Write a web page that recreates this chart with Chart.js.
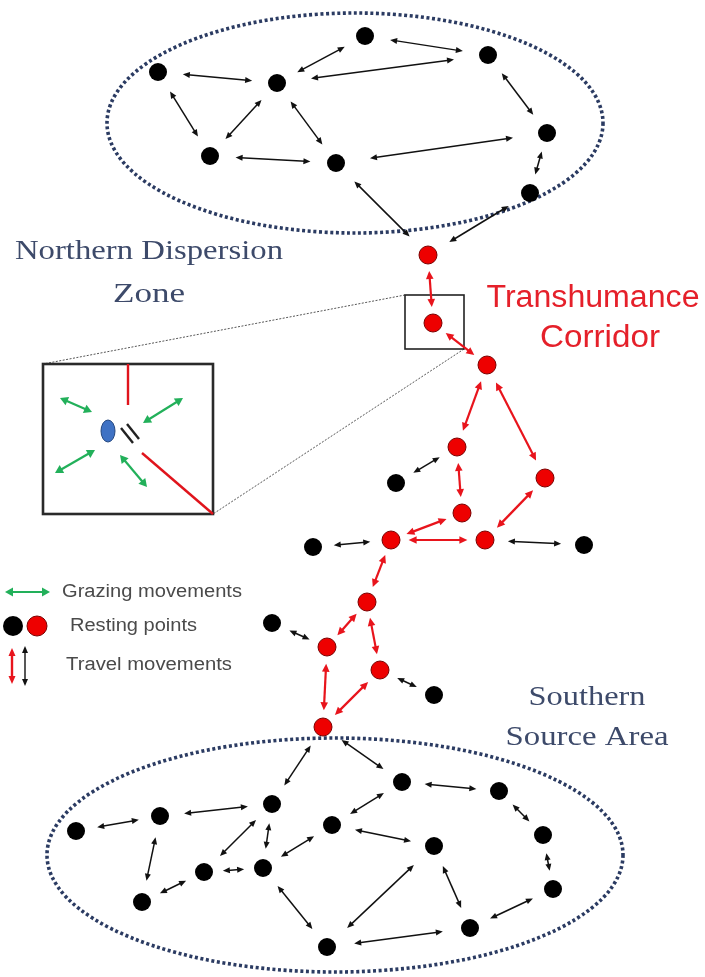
<!DOCTYPE html>
<html><head><meta charset="utf-8">
<script src="https://cdn.jsdelivr.net/npm/chart.js@4/dist/chart.umd.min.js"></script>
<style>html,body{margin:0;padding:0;background:#fff;}canvas{display:block;}</style>
</head><body>
<canvas id="c" width="705" height="977"></canvas>
<script>
// ---------- DATA (diagram coordinates) ----------
const northIds = ['N1','N2','N3','N4','N5','N6','N7','N8'];
const northX   = [365, 488, 158, 277, 547, 210, 336, 530];
const northY   = [ 36,  55,  72,  83, 133, 156, 163, 193];

const corridorRedIds = ['R1','R2','R3','R4','R5','R6','R7','R8','R9','R10','R11','R12'];
const corridorRedX   = [428, 433, 487, 457, 545, 462, 391, 485, 367, 327, 380, 323];
const corridorRedY   = [255, 323, 365, 447, 478, 513, 540, 540, 602, 647, 670, 727];

const corridorBlackIds = ['B1','B2','B3','B4','B5'];
const corridorBlackX   = [396, 313, 584, 272, 434];
const corridorBlackY   = [483, 547, 545, 623, 695];

const southIds = ['S1','S2','S3','S4','S5','S6','S7','S8','S9','S10','S11','S12','S13','S14'];
const southX   = [ 76, 160, 272, 332, 204, 263, 142, 327, 402, 499, 543, 434, 553, 470];
const southY   = [831, 816, 804, 825, 872, 868, 902, 947, 782, 791, 835, 846, 889, 928];

const blackEdges = [
  ['N1','N2'],['N1','N4'],['N3','N4'],['N4','N2'],['N3','N6'],['N4','N6'],['N4','N7'],
  ['N6','N7'],['N7','N5'],['N2','N5'],['N5','N8'],['R1','N7'],['R1','N8'],
  ['R4','B1'],['R8','B3'],['B2','R7'],['B4','R10'],['R11','B5'],
  ['R12','S3'],['R12','S9'],['S1','S2'],['S2','S3'],['S2','S7'],['S3','S5'],['S3','S6'],
  ['S5','S6'],['S7','S5'],['S6','S4'],['S6','S8'],['S9','S10'],['S9','S4'],['S10','S11'],
  ['S4','S12'],['S12','S14'],['S12','S8'],['S8','S14'],['S13','S14'],['S11','S13']
];
const redEdges = [
  ['R1','R2'],['R2','R3'],['R3','R4'],['R3','R5'],['R4','R6'],['R6','R7'],['R7','R8'],
  ['R5','R8'],['R7','R9'],['R9','R10'],['R9','R11'],['R10','R12'],['R11','R12']
];

// zones (centre x, centre y, radius x, radius y)
const zoneNames = ['north','south'];
const zoneCX = [355, 335];
const zoneCY = [123, 855];
const zoneRX = [248, 288];
const zoneRY = [110, 117];

// inset (zoom of node R2)
const zoomSquare = [405, 295, 464, 349];      // x1,y1,x2,y2
const insetBox   = [43, 364, 213, 514];
const insetNode  = [108, 431, 7, 11];         // cx, cy, rx, ry
const grazingFromX = [60, 183, 55, 120];
const grazingFromY = [398, 398, 473, 455];
const grazingToX   = [92, 143, 95, 147];
const grazingToY   = [412, 423, 450, 487];

// labels
const labelTexts = ['Northern Dispersion','Zone','Transhumance','Corridor','Southern','Source Area'];
const labelX     = [149, 149, 593, 600, 587, 587];
const labelY     = [252, 295, 298, 338, 698, 738];
const labelW     = [268, 72, 213, 120, 117, 163];
const legendTexts = ['Grazing movements','Resting points','Travel movements'];
const legendTextX = [62, 70, 66];
const legendTextY = [592, 626, 665];
const legendTextW = [180, 127, 166];

// ---------- BUILD ----------
const pos = {};
function addNodes(ids, xs, ys){ ids.forEach((id,i)=>pos[id]=[xs[i],ys[i]]); }
addNodes(northIds, northX, northY);
addNodes(corridorRedIds, corridorRedX, corridorRedY);
addNodes(corridorBlackIds, corridorBlackX, corridorBlackY);
addNodes(southIds, southX, southY);

const blackPts = [].concat(
  northIds.map((_,i)=>({x:northX[i],y:northY[i]})),
  corridorBlackIds.map((_,i)=>({x:corridorBlackX[i],y:corridorBlackY[i]})),
  southIds.map((_,i)=>({x:southX[i],y:southY[i]}))
);
const redPts = corridorRedIds.map((_,i)=>({x:corridorRedX[i],y:corridorRedY[i]}));

function head(ctx, tx, ty, ux, uy, len, wid){
  ctx.beginPath();
  ctx.moveTo(tx, ty);
  ctx.lineTo(tx-ux*len-uy*wid, ty-uy*len+ux*wid);
  ctx.lineTo(tx-ux*len+uy*wid, ty-uy*len-ux*wid);
  ctx.closePath(); ctx.fill();
}
function arrow(ctx, x1, y1, x2, y2, color, lw, hl, hw, g1, g2){
  const dx=x2-x1, dy=y2-y1, L=Math.hypot(dx,dy), ux=dx/L, uy=dy/L;
  const ax=x1+ux*g1, ay=y1+uy*g1, bx=x2-ux*g2, by=y2-uy*g2;
  ctx.strokeStyle=color; ctx.fillStyle=color; ctx.lineWidth=lw; ctx.lineCap='butt';
  ctx.beginPath(); ctx.moveTo(ax+ux*hl*0.7, ay+uy*hl*0.7); ctx.lineTo(bx-ux*hl*0.7, by-uy*hl*0.7); ctx.stroke();
  head(ctx, bx, by, ux, uy, hl, hw);
  head(ctx, ax, ay, -ux, -uy, hl, hw);
}
function fitText(ctx, txt, x, y, font, w, align){
  ctx.font = font;
  const m = ctx.measureText(txt).width;
  const s = w / m;
  ctx.save();
  ctx.translate(x, y);
  ctx.scale(s, 1);
  ctx.textAlign = align; ctx.textBaseline = 'middle';
  ctx.fillText(txt, 0, 0);
  ctx.restore();
}

const diagramPlugin = {
  id: 'diagram',
  beforeDatasetsDraw(chart){
    const ctx = chart.ctx, sx = chart.scales.x, sy = chart.scales.y;
    const X = v => sx.getPixelForValue(v), Y = v => sy.getPixelForValue(v);
    ctx.save();
    // dotted zones
    zoneNames.forEach((_,i)=>{
      const cx=X(zoneCX[i]), cy=Y(zoneCY[i]);
      const rx=Math.abs(X(zoneCX[i]+zoneRX[i])-cx), ry=Math.abs(Y(zoneCY[i]+zoneRY[i])-cy);
      ctx.beginPath(); ctx.ellipse(cx, cy, rx, ry, 0, 0, Math.PI*2);
      ctx.setLineDash([3, 2.6]); ctx.lineWidth=3.6; ctx.strokeStyle='#2b3b62'; ctx.stroke();
    });
    ctx.setLineDash([]);
    // zoom connector lines
    ctx.setLineDash([2, 1.5]); ctx.lineWidth=1; ctx.strokeStyle='#555';
    ctx.beginPath(); ctx.moveTo(X(zoomSquare[0]), Y(zoomSquare[1])); ctx.lineTo(X(insetBox[0]), Y(insetBox[1])); ctx.stroke();
    ctx.beginPath(); ctx.moveTo(X(zoomSquare[2]), Y(zoomSquare[3])); ctx.lineTo(X(insetBox[2]), Y(insetBox[3])); ctx.stroke();
    ctx.setLineDash([]);
    // zoom square
    ctx.lineWidth=1.6; ctx.strokeStyle='#222';
    ctx.strokeRect(X(zoomSquare[0]), Y(zoomSquare[1]), X(zoomSquare[2])-X(zoomSquare[0]), Y(zoomSquare[3])-Y(zoomSquare[1]));
    // inset
    ctx.fillStyle='#fff';
    ctx.fillRect(X(insetBox[0]), Y(insetBox[1]), X(insetBox[2])-X(insetBox[0]), Y(insetBox[3])-Y(insetBox[1]));
    ctx.lineWidth=2.6; ctx.strokeStyle='#2a2a2a';
    ctx.strokeRect(X(insetBox[0]), Y(insetBox[1]), X(insetBox[2])-X(insetBox[0]), Y(insetBox[3])-Y(insetBox[1]));
    ctx.lineWidth=2.4; ctx.strokeStyle='#e0141c';
    ctx.beginPath(); ctx.moveTo(X(128), Y(insetBox[1])); ctx.lineTo(X(128), Y(405)); ctx.stroke();
    ctx.beginPath(); ctx.moveTo(X(142), Y(453)); ctx.lineTo(X(insetBox[2]), Y(insetBox[3])); ctx.stroke();
    ctx.lineWidth=2.4; ctx.strokeStyle='#222';
    ctx.beginPath(); ctx.moveTo(X(121), Y(428)); ctx.lineTo(X(133), Y(443)); ctx.stroke();
    ctx.beginPath(); ctx.moveTo(X(127), Y(424)); ctx.lineTo(X(139), Y(439)); ctx.stroke();
    ctx.beginPath(); ctx.ellipse(X(insetNode[0]), Y(insetNode[1]), insetNode[2], insetNode[3], 0, 0, Math.PI*2);
    ctx.fillStyle='#3f72c4'; ctx.fill(); ctx.lineWidth=1; ctx.strokeStyle='#24477f'; ctx.stroke();
    grazingFromX.forEach((_,i)=>arrow(ctx, X(grazingFromX[i]), Y(grazingFromY[i]), X(grazingToX[i]), Y(grazingToY[i]), '#22b05a', 2.2, 8, 4.5, 0, 0));
    // edges
    blackEdges.forEach(([a,b])=>{
      const p=pos[a], q=pos[b];
      const x1=X(p[0]), y1=Y(p[1]), x2=X(q[0]), y2=Y(q[1]);
      const L=Math.hypot(x2-x1,y2-y1), g=13+0.1*L;
      arrow(ctx, x1, y1, x2, y2, '#111', 1.5, 7, 3, g, g);
    });
    redEdges.forEach(([a,b])=>{
      const p=pos[a], q=pos[b];
      const x1=X(p[0]), y1=Y(p[1]), x2=X(q[0]), y2=Y(q[1]);
      const L=Math.hypot(x2-x1,y2-y1), g=12+0.06*L;
      arrow(ctx, x1, y1, x2, y2, '#e8141c', 2.2, 8, 3.8, g, g);
    });
    ctx.restore();
  },
  afterDatasetsDraw(chart){
    const ctx = chart.ctx, sx = chart.scales.x, sy = chart.scales.y;
    const X = v => sx.getPixelForValue(v), Y = v => sy.getPixelForValue(v);
    ctx.save();
    // labels
    labelTexts.forEach((t,i)=>{
      const isRed = (i===2 || i===3);
      ctx.fillStyle = isRed ? '#e5202a' : '#3d4a6a';
      const font = isRed ? '31px "Liberation Sans", Arial, sans-serif' : '28px "Liberation Serif", "Times New Roman", serif';
      fitText(ctx, t, X(labelX[i]), Y(labelY[i]), font, labelW[i], 'center');
    });
    // legend symbols
    arrow(ctx, X(5), Y(592), X(50), Y(592), '#22b05a', 2.2, 8, 4.5, 0, 0);
    ctx.beginPath(); ctx.arc(X(13), Y(626), 10, 0, Math.PI*2); ctx.fillStyle='#000'; ctx.fill();
    ctx.beginPath(); ctx.arc(X(37), Y(626), 10, 0, Math.PI*2); ctx.fillStyle='#ee0000'; ctx.fill();
    ctx.lineWidth=1; ctx.strokeStyle='#7a0000'; ctx.stroke();
    arrow(ctx, X(12), Y(648), X(12), Y(684), '#e8141c', 2.4, 8, 3.5, 0, 0);
    arrow(ctx, X(25), Y(646), X(25), Y(686), '#111', 1.4, 7, 3, 0, 0);
    ctx.fillStyle='#4a4a4a';
    legendTexts.forEach((t,i)=>fitText(ctx, t, X(legendTextX[i]), Y(legendTextY[i]), '18px "Liberation Sans", Arial, sans-serif', legendTextW[i], 'left'));
    ctx.restore();
  }
};

new Chart(document.getElementById('c'), {
  type: 'scatter',
  data: { datasets: [
    { label:'Resting points (dispersion/source)', data: blackPts, pointRadius:9, pointHoverRadius:9,
      pointBackgroundColor:'#000', pointBorderColor:'#000', pointBorderWidth:0 },
    { label:'Resting points (corridor)', data: redPts, pointRadius:9, pointHoverRadius:9,
      pointBackgroundColor:'#ee0000', pointBorderColor:'#7a0000', pointBorderWidth:1 }
  ]},
  options: {
    responsive:false, animation:false, events:[],
    layout:{ padding:0, autoPadding:false },
    plugins:{ legend:{display:false}, tooltip:{enabled:false} },
    scales:{
      x:{ type:'linear', min:0, max:705, display:false },
      y:{ type:'linear', min:0, max:977, reverse:true, display:false }
    }
  },
  plugins:[diagramPlugin]
});
</script>
</body></html>
